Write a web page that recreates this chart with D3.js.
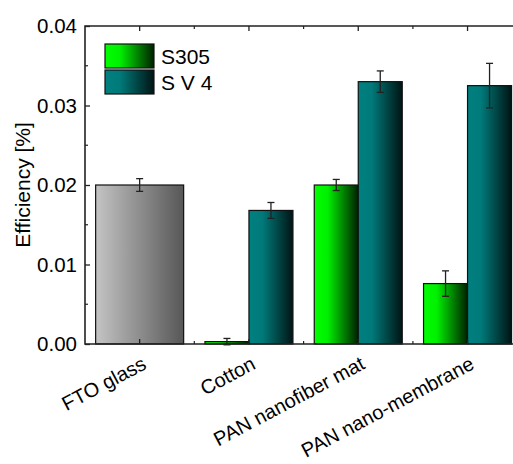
<!DOCTYPE html>
<html><head><meta charset="utf-8">
<script src="https://cdn.jsdelivr.net/npm/d3@7"></script>
<style>body{margin:0;background:#fff}svg{display:block}text{font-family:"Liberation Sans",Arial,sans-serif;fill:#000}</style>
</head><body><svg id="c" width="513" height="464"></svg>
<script>
const categories = ["FTO glass", "Cotton", "PAN nanofiber mat", "PAN nano-membrane"];
const seriesNames = ["S305", "S V 4"];
const ftoValue = 0.0200, ftoErr = 0.0008;
const s305Values = [null, 0.0003, 0.0200, 0.0076];
const s305Errors = [null, 0.0004, 0.0007, 0.0016];
const sv4Values = [null, 0.0168, 0.0330, 0.0325];
const sv4Errors = [null, 0.0010, 0.00135, 0.0028];
const yTicks = [0.00, 0.01, 0.02, 0.03, 0.04];
const yMinorTicks = [0.005, 0.015, 0.025, 0.035];

const svg = d3.select("#c");
const L = 85, T = 26, B = 344, R = 521;
const step = 109.3;
const FS = 20.5;
const x = d3.scalePoint().domain(categories).range([L + step/2, L + step/2 + 3*step]);
const y = d3.scaleLinear().domain([0, 0.04]).range([B, T]);
const bw = 44;

const defs = svg.append("defs");
function grad(id, stops) {
  const g = defs.append("linearGradient").attr("id", id).attr("x1", "0").attr("x2", "1").attr("y1", "0").attr("y2", "0");
  stops.forEach(s => g.append("stop").attr("offset", s[0]).attr("stop-color", s[1]));
}
grad("gGreen", [[0, "#00ff00"], [0.3, "#00f000"], [1, "#002000"]]);
grad("gTeal", [[0, "#008080"], [0.3, "#007a7a"], [1, "#001414"]]);
grad("gGray", [[0, "#c4c4c4"], [1, "#575757"]]);

const bars = [];
bars.push({cat: categories[0], x0: x(categories[0]) - bw, w: 2*bw, v: ftoValue, e: ftoErr, fill: "url(#gGray)"});
categories.forEach((c, i) => {
  if (s305Values[i] != null) bars.push({cat: c, x0: x(c) - bw, w: bw, v: s305Values[i], e: s305Errors[i], fill: "url(#gGreen)"});
  if (sv4Values[i] != null) bars.push({cat: c, x0: x(c), w: bw, v: sv4Values[i], e: sv4Errors[i], fill: "url(#gTeal)"});
});

svg.selectAll("rect.bar").data(bars).join("rect").attr("class", "bar")
  .attr("x", d => d.x0).attr("y", d => y(d.v)).attr("width", d => d.w).attr("height", d => B - y(d.v))
  .attr("fill", d => d.fill).attr("stroke", "#111").attr("stroke-width", 1.2);

const eb = svg.selectAll("g.eb").data(bars).join("g").attr("class", "eb").attr("stroke", "#222").attr("stroke-width", 1.3);
eb.append("line").attr("x1", d => d.x0 + d.w/2).attr("x2", d => d.x0 + d.w/2).attr("y1", d => y(d.v + d.e)).attr("y2", d => y(d.v - d.e));
eb.append("line").attr("x1", d => d.x0 + d.w/2 - 3.5).attr("x2", d => d.x0 + d.w/2 + 3.5).attr("y1", d => y(d.v + d.e)).attr("y2", d => y(d.v + d.e));
eb.append("line").attr("x1", d => d.x0 + d.w/2 - 3.5).attr("x2", d => d.x0 + d.w/2 + 3.5).attr("y1", d => y(d.v - d.e)).attr("y2", d => y(d.v - d.e));

// frame
const ax = svg.append("g").attr("stroke", "#222").attr("stroke-width", 1.6).attr("fill", "none");
ax.append("path").attr("d", `M${R},${T}H${L}V${B}H${R}`);

// y ticks
const yAxis = d3.axisLeft(y).tickValues(yTicks).tickFormat(d3.format(".2f")).tickSizeInner(-5).tickSizeOuter(0).tickPadding(8);
const gy = svg.append("g").attr("transform", `translate(${L},0)`).call(yAxis);
gy.select(".domain").remove();
gy.selectAll("line").attr("stroke", "#222").attr("stroke-width", 1.3);
gy.selectAll("text").attr("font-size", FS).attr("font-family", '"Liberation Sans",Arial,sans-serif').attr("fill", "#000");
svg.append("g").selectAll("line").data(yMinorTicks).join("line")
  .attr("x1", L).attr("x2", L + 3).attr("y1", d => y(d)).attr("y2", d => y(d)).attr("stroke", "#222").attr("stroke-width", 1.2);

// x ticks (major at categories, minor between), bottom and top
const minorX = categories.slice(0, -1).map((c, i) => (x(c) + x(categories[i+1])) / 2);
const tk = svg.append("g").attr("stroke", "#222");
categories.forEach(c => {
  tk.append("line").attr("x1", x(c)).attr("x2", x(c)).attr("y1", B).attr("y2", B - 5).attr("stroke-width", 1.3);
  tk.append("line").attr("x1", x(c)).attr("x2", x(c)).attr("y1", T).attr("y2", T + 5).attr("stroke-width", 1.3);
});
minorX.forEach(m => {
  tk.append("line").attr("x1", m).attr("x2", m).attr("y1", B).attr("y2", B - 3).attr("stroke-width", 1.2);
  tk.append("line").attr("x1", m).attr("x2", m).attr("y1", T).attr("y2", T + 3).attr("stroke-width", 1.2);
});

// x labels
svg.append("g").selectAll("text").data(categories).join("text")
  .attr("transform", d => `translate(${x(d) + 8},${B + 24}) rotate(-28)`)
  .attr("text-anchor", "end").attr("font-size", 20).text(d => d);

// y label
svg.append("text").attr("transform", `translate(30,${(T + B) / 2}) rotate(-90)`)
  .attr("text-anchor", "middle").attr("font-size", 21).text("Efficiency [%]");

// legend
const lg = svg.append("g");
const legendFills = ["url(#gGreen)", "url(#gTeal)"];
seriesNames.forEach((s, i) => {
  lg.append("rect").attr("x", 105).attr("y", 44 + i * 26).attr("width", 49).attr("height", 24)
    .attr("fill", legendFills[i]).attr("stroke", "#111").attr("stroke-width", 1.2);
  lg.append("text").attr("x", 161).attr("y", 64 + i * 26).attr("font-size", 21).text(s);
});
</script></body></html>
